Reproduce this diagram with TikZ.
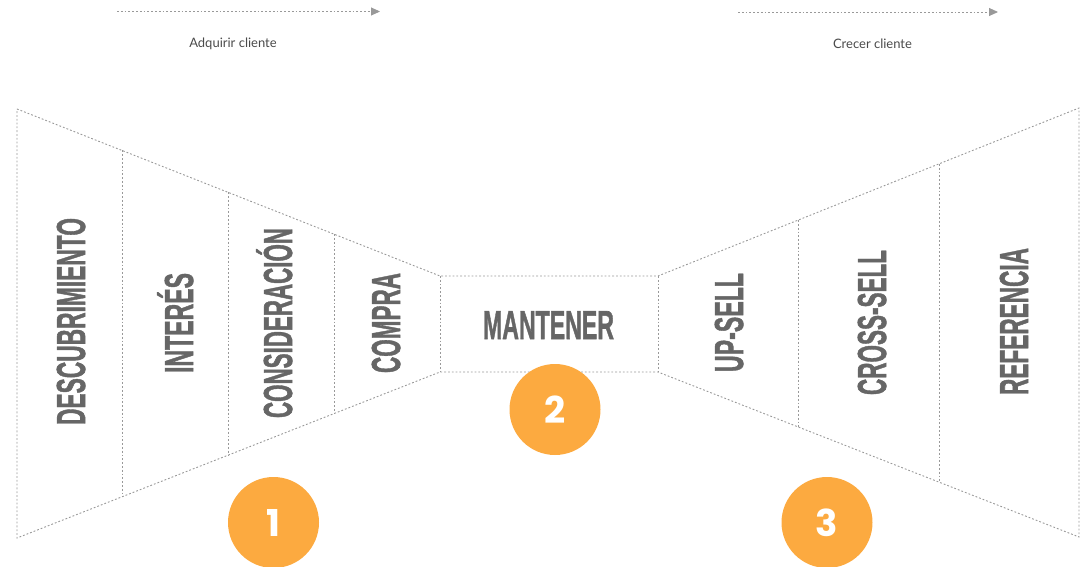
\documentclass[tikz,border=0pt]{standalone}
\usepackage{fontspec}
\usepackage{graphicx}
\setmainfont{Liberation Sans}
\newfontfamily\labfont[FakeBold=1.6]{Liberation Sans Bold}
\newfontfamily\numfont{Poppins}
\newfontfamily\capfont{Lato}
\usetikzlibrary{arrows.meta}
\definecolor{lineg}{HTML}{999999}
\definecolor{txtg}{HTML}{666666}
\definecolor{capg}{HTML}{4A4A4A}
\definecolor{orng}{RGB}{252,170,64}
\newcommand\fitx[2]{\setbox0\hbox{#2}\dimen0=\wd0\pgfmathsetmacro\sfac{#1/\the\dimen0}\scalebox{\sfac}[1]{\box0}}
\tikzset{
  dotline/.style={draw=lineg, line width=0.9pt, dash pattern=on 1.8pt off 2pt},
  stagelab/.style={inner sep=0pt, anchor=base, text=txtg, font=\labfont\fontsize{40.5}{40}\selectfont},
  vlab/.style={stagelab, rotate=90},
  numcirc/.style={circle, fill=orng, minimum size=91pt, inner sep=0pt, text=white, font=\numfont\bfseries\fontsize{37}{37}\selectfont},
  caption/.style={inner sep=0pt, text=capg, font=\capfont\fontsize{13}{13}\selectfont},
  arr/.style={dotline, -{Triangle[length=9pt, width=8pt, fill=lineg]}, shorten >=0pt}
}
\begin{document}
\begin{tikzpicture}[x=1pt, y=-1pt]
\useasboundingbox (0,0) rectangle (1084,567);
% top arrows
\coordinate (a1s) at (117,11.5);
\coordinate (a1e) at (380,11.5);
\coordinate (a2s) at (738,12);
\coordinate (a2e) at (998,12);
\draw[arr] (a1s) -- (a1e);
\draw[arr] (a2s) -- (a2e);
\node[caption] (cap1) at (233,44) {Adquirir cliente};
\node[caption] (cap2) at (872.5,44) {Crecer cliente};
% funnel corners
\coordinate (LT) at (17,109);
\coordinate (LB) at (17,538);
\coordinate (t1) at (122,150.5);
\coordinate (b1) at (122,496.8);
\coordinate (t2) at (228,192.3);
\coordinate (b2) at (228,455.2);
\coordinate (t3) at (334,234.2);
\coordinate (b3) at (334,413.6);
\coordinate (t4) at (440,276);
\coordinate (b4) at (440,372);
\coordinate (t5) at (658,276);
\coordinate (b5) at (658,372);
\coordinate (t6) at (798,220.1);
\coordinate (b6) at (798,426.9);
\coordinate (t7) at (939,163.9);
\coordinate (b7) at (939,482.1);
\coordinate (RT) at (1079,108);
\coordinate (RB) at (1079,537);
\draw[dotline] (LT) -- (t4) -- (t5) -- (RT) -- (RB) -- (b5) -- (b4) -- (LB) -- cycle;
\draw[dotline] (t1) -- (b1);
\draw[dotline] (t2) -- (b2);
\draw[dotline] (t3) -- (b3);
\draw[dotline] (t4) -- (b4);
\draw[dotline] (t5) -- (b5);
\draw[dotline] (t6) -- (b6);
\draw[dotline] (t7) -- (b7);
% stage labels
\node[vlab] (l1) at (85,321.5) {\fitx{207}{DESCUBRIMIENTO}};
\node[vlab] (l2) at (193,323) {\fitx{100}{INTERÉS}};
\node[vlab] (l3) at (292,323) {\fitx{190}{CONSIDERACIÓN}};
\node[vlab] (l4) at (400,323) {\fitx{100}{COMPRA}};
\node[stagelab] (l5) at (548.5,339) {\fitx{131}{MANTENER}};
\node[vlab] (l6) at (743,322.5) {\fitx{99}{UP-SELL}};
\node[vlab] (l7) at (886,322.5) {\fitx{145}{CROSS-SELL}};
\node[vlab] (l8) at (1028,321.5) {\fitx{147}{REFERENCIA}};
% number circles
\node[numcirc] (n1) at (273.5,522.5) {1};
\node[numcirc] (n2) at (555,409.5) {2};
\node[numcirc] (n3) at (827,522.5) {3};
\end{tikzpicture}
\end{document}
